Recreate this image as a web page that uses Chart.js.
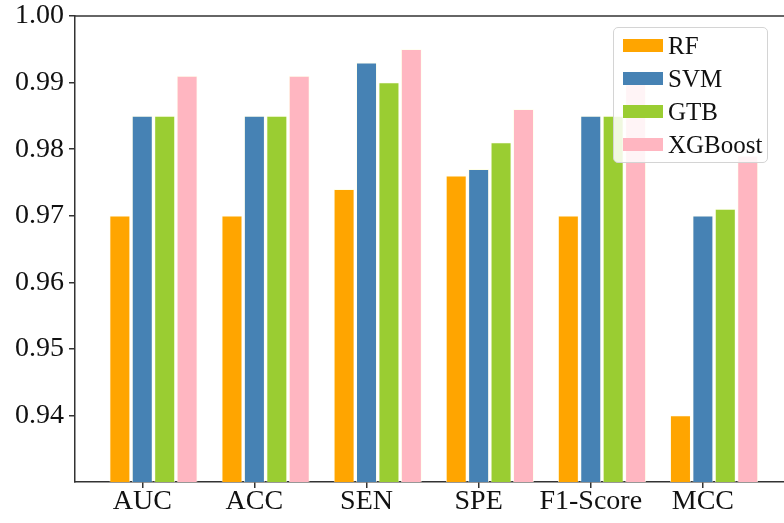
<!DOCTYPE html>
<html>
<head>
<meta charset="utf-8">
<script src="https://cdn.jsdelivr.net/npm/chart.js@4/dist/chart.umd.min.js"></script>
<style>
html,body{margin:0;padding:0;background:#fff;overflow:hidden;width:784px;height:523px;}
#wrap{position:relative;width:830px;height:523px;}
#legend{position:absolute;left:613px;top:27px;width:155px;height:136px;border:1px solid #d4d4d4;border-radius:5px;background:rgba(255,255,255,0.85);font:25px "Liberation Serif",serif;color:#111;box-sizing:border-box;padding-top:1px;}
#legend .row{display:flex;align-items:center;height:33px;}
#legend .sw{width:40px;height:13px;margin:0 5px 0 9px;}
</style>
</head>
<body>
<div id="wrap">
<canvas id="c" width="830" height="523"></canvas>
<div id="legend"></div>
</div>
<script>
const metrics = ['AUC','ACC','SEN','SPE','F1-Score','MCC'];
const models = ['RF','SVM','GTB','XGBoost'];
const colors = ['#FFA500','#4682B4','#9ACD32','#FFB6C1'];
const rf      = [0.970,0.970,0.974,0.976,0.970,0.940];
const svm     = [0.985,0.985,0.993,0.977,0.985,0.970];
const gtb     = [0.985,0.985,0.990,0.981,0.985,0.971];
const xgboost = [0.991,0.991,0.995,0.986,0.990,0.979];
const yTicks = [0.94,0.95,0.96,0.97,0.98,0.99,1.00];
const barW = 0.2;   // matplotlib-style offset bars, tick sits under the 2nd bar

const series=[rf,svm,gtb,xgboost];
const datasets=series.map((vals,k)=>({
  label:models[k],
  data:vals.map((v,i)=>({x:i+(k-1)*barW,y:v})),
  backgroundColor:colors[k],
  borderColor:'rgba(255,255,230,0.9)',
  borderWidth:0.8,
  barPercentage:0.92,categoryPercentage:1,
  grouped:false
}));

const topSpine={id:'topSpine',afterDraw(ch){
  const a=ch.chartArea,c=ch.ctx;
  c.save();c.strokeStyle='#333';c.lineWidth=1.5;
  c.beginPath();c.moveTo(a.left,a.top);c.lineTo(a.right+20,a.top);c.stroke();c.restore();
}};

const font={family:'"Liberation Serif", serif',size:28};
new Chart(document.getElementById('c'),{
  type:'bar',
  data:{datasets},
  options:{
    responsive:false,animation:false,
    layout:{padding:{top:16,left:0,right:15,bottom:0}},
    plugins:{legend:{display:false},tooltip:{enabled:false}},
    scales:{
      x:{type:'linear',min:-0.6,max:6.0,offset:false,
        afterBuildTicks:s=>{s.ticks=metrics.map((_,i)=>({value:i}));},
        afterFit:s=>{s.height=41;},
        ticks:{callback:v=>metrics[v],font,color:'#111',padding:-3,maxRotation:0,autoSkip:false},
        grid:{display:true,offset:false,drawOnChartArea:false,drawTicks:true,tickLength:6,color:'#333',lineWidth:1.5},
        border:{display:true,color:'#333',width:1.5}},
      y:{min:0.93,max:1.0,
        afterBuildTicks:s=>{s.ticks=yTicks.map(v=>({value:v}));},
        afterFit:s=>{s.width=75;s.paddingTop=0;s.paddingBottom=0;},
        ticks:{callback:v=>v.toFixed(2),font,color:'#111',padding:5},
        grid:{display:true,drawOnChartArea:false,drawTicks:true,tickLength:6,color:'#333',lineWidth:1.5},
        border:{display:true,color:'#333',width:1.5}}
    }
  },
  plugins:[topSpine]
});

const lg=document.getElementById('legend');
models.forEach((m,k)=>{
  const r=document.createElement('div');r.className='row';
  r.innerHTML='<span class="sw" style="background:'+colors[k]+'"></span><span>'+m+'</span>';
  lg.appendChild(r);
});
</script>
</body>
</html>
